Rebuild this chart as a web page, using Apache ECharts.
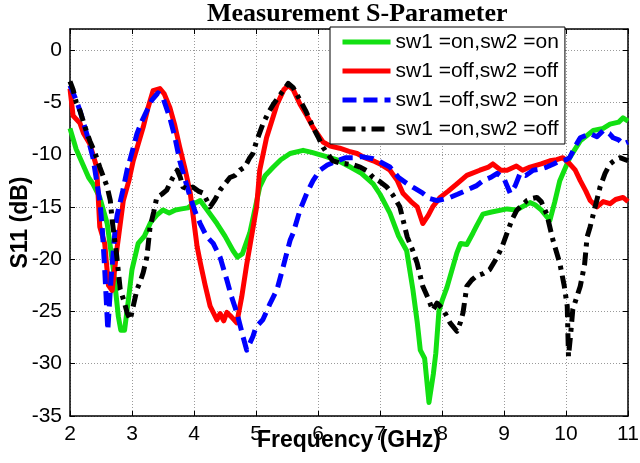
<!DOCTYPE html>
<html>
<head>
<meta charset="utf-8">
<script src="https://cdn.jsdelivr.net/npm/echarts@6/dist/echarts.min.js"></script>
<style>
  html, body { margin: 0; padding: 0; background: #fff; }
  #chart { width: 640px; height: 463px; }
</style>
</head>
<body>
<div id="chart"></div>
<script>
// 测量 S11 曲线 (频率 GHz, dB)
const seriesNames = ['sw1 =on,sw2 =on', 'sw1 =off,sw2 =off', 'sw1 =off,sw2 =on', 'sw1 =on,sw2 =off'];
const xTicks = [2, 3, 4, 5, 6, 7, 8, 9, 10, 11];
const yTicks = [-35, -30, -25, -20, -15, -10, -5, 0];

const onOn = [[2,-7.5],[2.1,-9.5],[2.16,-10.3],[2.3,-12.2],[2.37,-12.8],[2.48,-14.1],[2.6,-16.6],[2.7,-21],[2.78,-25.5],[2.82,-26.8],[2.88,-26.8],[2.95,-23.5],[3.0,-21],[3.1,-18.5],[3.2,-17.8],[3.3,-16.5],[3.4,-15.8],[3.5,-15.3],[3.6,-15.6],[3.7,-15.3],[3.8,-15.2],[3.9,-15.1],[4.0,-14.7],[4.1,-14.4],[4.2,-15.2],[4.37,-16.6],[4.5,-17.8],[4.63,-19.2],[4.7,-19.8],[4.78,-19.5],[4.9,-17.5],[5.06,-13.1],[5.15,-12],[5.28,-11.2],[5.4,-10.5],[5.55,-9.9],[5.76,-9.6],[5.9,-9.8],[6.08,-10.1],[6.3,-10.5],[6.52,-11.2],[6.7,-11.8],[6.89,-12.8],[7.0,-13.8],[7.16,-15.6],[7.3,-17.8],[7.43,-19.2],[7.53,-22.9],[7.6,-26],[7.65,-28.7],[7.72,-29.5],[7.79,-33.7],[7.86,-31],[7.9,-29],[7.95,-25],[8.0,-24],[8.08,-22.7],[8.24,-19.4],[8.3,-18.5],[8.4,-18.6],[8.5,-17.5],[8.56,-16.8],[8.66,-15.7],[8.8,-15.5],[9.05,-15.2],[9.2,-15.3],[9.42,-14.6],[9.5,-14.8],[9.6,-15.3],[9.74,-16.3],[9.82,-14.5],[9.9,-12.5],[10.06,-10.3],[10.23,-8.7],[10.44,-7.7],[10.6,-7.5],[10.71,-7.1],[10.85,-6.9],[10.92,-6.5],[11,-6.8]];

const offOff = [[2,-3.7],[2.05,-6.3],[2.16,-7.0],[2.22,-8.0],[2.32,-9.0],[2.43,-11.2],[2.48,-16.9],[2.56,-18.5],[2.62,-22.5],[2.68,-23],[2.72,-21],[2.76,-18.9],[2.86,-14.4],[2.95,-12.5],[3.02,-10.6],[3.1,-9],[3.18,-7.4],[3.26,-5.5],[3.34,-3.9],[3.45,-3.7],[3.52,-4.2],[3.61,-5.5],[3.69,-7.2],[3.77,-9.3],[3.86,-11.5],[3.94,-13.7],[4.0,-16.5],[4.05,-18.8],[4.1,-20.3],[4.18,-22.5],[4.26,-24.5],[4.37,-25.8],[4.42,-25.2],[4.48,-25.9],[4.53,-25.1],[4.6,-25.5],[4.69,-26.1],[4.77,-23.6],[4.85,-20.5],[4.9,-18.8],[5.01,-15],[5.06,-11.5],[5.17,-8.4],[5.34,-5.2],[5.45,-3.8],[5.52,-3.4],[5.6,-3.8],[5.71,-5.2],[5.82,-6.3],[5.92,-7.4],[6.08,-8.8],[6.2,-9.2],[6.35,-9.4],[6.5,-9.7],[6.63,-9.9],[6.75,-10.3],[6.89,-10.6],[7.0,-10.9],[7.16,-11.5],[7.28,-12.5],[7.37,-13.7],[7.5,-14.5],[7.6,-15],[7.69,-16.6],[7.78,-15.8],[7.85,-15],[7.97,-14.1],[8.1,-13.5],[8.24,-12.8],[8.4,-12],[8.61,-11.5],[8.75,-11.2],[8.82,-10.9],[8.95,-11.5],[9.05,-11.5],[9.2,-11.1],[9.3,-11.5],[9.42,-11.2],[9.6,-10.9],[9.74,-10.6],[9.85,-10.5],[9.95,-10.3],[10.06,-10.9],[10.15,-11.5],[10.23,-12.5],[10.32,-13.5],[10.39,-14.4],[10.5,-15],[10.6,-14.5],[10.71,-14.7],[10.8,-14.3],[10.92,-14.1],[11,-14.5]];

const offOn = [[2,-3.4],[2.1,-4.8],[2.16,-5.8],[2.27,-8.0],[2.37,-10.3],[2.48,-14.4],[2.52,-17],[2.56,-21],[2.61,-26.8],[2.66,-22],[2.73,-17],[2.76,-15.8],[2.85,-13.5],[2.92,-11.5],[3.0,-9.8],[3.08,-8.0],[3.16,-6.8],[3.24,-5.8],[3.32,-4.8],[3.42,-4.1],[3.5,-4.6],[3.61,-6.5],[3.69,-8.3],[3.77,-10.6],[3.86,-12.5],[3.94,-14.1],[4.02,-15.5],[4.1,-16.6],[4.2,-17.8],[4.31,-18.5],[4.42,-19.8],[4.53,-22],[4.6,-23.5],[4.69,-25.1],[4.79,-27.4],[4.85,-28.7],[4.95,-27.4],[5.0,-26.5],[5.11,-25.8],[5.23,-24.2],[5.34,-22.9],[5.44,-20.7],[5.55,-18.2],[5.6,-17.5],[5.71,-15.3],[5.82,-13.7],[5.92,-12.5],[6.03,-11.5],[6.15,-11],[6.31,-10.6],[6.45,-10.3],[6.56,-10.3],[6.7,-10.2],[6.89,-10.4],[7.0,-10.7],[7.16,-11.2],[7.3,-12.2],[7.44,-12.8],[7.55,-13.2],[7.69,-13.7],[7.8,-14.2],[7.92,-14.4],[8.0,-14.3],[8.13,-14.1],[8.25,-13.8],[8.4,-13.4],[8.55,-13],[8.66,-12.5],[8.78,-12.2],[8.89,-11.8],[9.0,-12.3],[9.1,-13.7],[9.18,-13],[9.26,-11.8],[9.35,-12],[9.47,-11.5],[9.58,-11.4],[9.69,-11.2],[9.8,-10.9],[9.9,-10.6],[10.0,-10.5],[10.06,-10.3],[10.15,-9.2],[10.23,-8.4],[10.39,-8.0],[10.5,-8.3],[10.6,-7.7],[10.7,-8.0],[10.76,-8.4],[10.85,-8.6],[10.92,-9.0],[11,-8.8]];

const onOff = [[2,-3.0],[2.05,-3.8],[2.1,-5.0],[2.16,-5.8],[2.25,-7.5],[2.32,-8.7],[2.4,-9.8],[2.48,-11.2],[2.6,-13.1],[2.65,-14.4],[2.68,-16.3],[2.75,-19.5],[2.81,-22.9],[2.87,-24],[2.92,-25.1],[2.97,-25.8],[3.02,-24.5],[3.08,-22.9],[3.13,-22.2],[3.18,-21.3],[3.24,-19.8],[3.29,-17],[3.35,-15.5],[3.4,-14.1],[3.48,-13.8],[3.56,-13.4],[3.65,-12.3],[3.73,-11.5],[3.78,-12.2],[3.82,-13.1],[3.9,-13.3],[3.98,-13.1],[4.07,-13.5],[4.15,-13.7],[4.2,-14.3],[4.26,-15],[4.34,-14.3],[4.42,-13.4],[4.5,-12.8],[4.58,-12.2],[4.66,-12],[4.74,-11.5],[4.82,-11.2],[4.9,-10.3],[4.95,-9.9],[5.01,-8.7],[5.11,-7.1],[5.2,-6.0],[5.28,-5.2],[5.4,-4.2],[5.52,-3.2],[5.6,-3.6],[5.71,-4.8],[5.8,-5.8],[5.92,-7.4],[6.0,-8.3],[6.08,-9.3],[6.16,-10.0],[6.24,-10.6],[6.35,-10.8],[6.47,-10.9],[6.58,-11.0],[6.68,-11.2],[6.8,-11.6],[6.89,-12.2],[7.0,-12.6],[7.11,-13.1],[7.2,-13.8],[7.32,-15],[7.44,-17.9],[7.53,-19.2],[7.6,-20.4],[7.69,-22.6],[7.78,-23.8],[7.85,-24.9],[7.92,-24.2],[8.02,-24.8],[8.13,-26.1],[8.24,-26.9],[8.3,-26],[8.34,-25.1],[8.4,-22.6],[8.48,-22],[8.56,-21.6],[8.66,-21.4],[8.77,-21],[8.89,-19.8],[8.97,-18.8],[9.05,-17.5],[9.13,-16.2],[9.21,-15.3],[9.37,-14.4],[9.45,-14.2],[9.53,-14.1],[9.6,-14.5],[9.69,-15.7],[9.79,-18.2],[9.9,-20.4],[9.97,-22.5],[10.02,-24.5],[10.04,-29.3],[10.07,-27.5],[10.11,-24.8],[10.23,-22.6],[10.3,-20.5],[10.34,-17.9],[10.39,-16.9],[10.47,-15],[10.55,-13.1],[10.63,-11.8],[10.71,-10.9],[10.8,-10.5],[10.87,-10.3],[11,-10.6]];

const colors = ['#12e012', '#ff0000', '#0000ff', '#000000'];
const dashes = ['solid', 'solid', [14, 7], [13, 6, 4, 6]];
const curves = [onOn, offOff, offOn, onOff];

const chart = echarts.init(document.getElementById('chart'));

const tickFont = { fontFamily: 'Liberation Sans, Arial, sans-serif', fontSize: 21, color: '#000' };
const gridLine = { show: true, lineStyle: { color: '#9a9a9a', width: 1, type: [1, 2] } };

let option = {
  animation: false,
  title: {
    text: 'Measurement S-Parameter',
    left: 202,
    top: -4,
    textStyle: { fontFamily: 'Liberation Serif, Times New Roman, serif', fontWeight: 'bold', fontSize: 26, color: '#000' }
  },
  legend: {
    data: seriesNames,
    orient: 'vertical',
    left: 330,
    top: 27,
    padding: [3, 6, 3, 10],
    itemWidth: 48,
    itemHeight: 14,
    itemGap: 5,
    icon: 'inherit',
    itemStyle: { opacity: 0 },
    lineStyle: { width: 5 },
    backgroundColor: '#fff',
    borderColor: '#000',
    borderWidth: 1,
    borderRadius: 0,
    textStyle: { fontFamily: 'Liberation Sans, Arial, sans-serif', fontSize: 21, color: '#000', lineHeight: 24 }
  },
  grid: { left: 70, right: 12, top: 29, bottom: 47, show: false, outerBoundsMode: 'none', containLabel: false },
  xAxis: [
    {
      type: 'value', min: 2, max: 11, interval: 1, position: 'bottom',
      name: 'Frequency (GHz)', nameLocation: 'middle', nameGap: 13, nameMoveOverlap: false,
      nameTextStyle: { fontFamily: 'Liberation Sans, Arial, sans-serif', fontWeight: 'bold', fontSize: 23, color: '#000' },
      axisLine: { show: true, onZero: false, lineStyle: { color: '#000', width: 1.5 } },
      axisTick: { show: true, inside: true, length: 5, lineStyle: { color: '#000' } },
      axisLabel: Object.assign({ margin: 8, formatter: v => xTicks.includes(v) ? String(v) : '' }, tickFont),
      splitLine: gridLine
    },
    {
      type: 'value', min: 2, max: 11, interval: 1, position: 'top',
      axisLine: { show: true, onZero: false, lineStyle: { color: '#000', width: 1.5 } },
      axisTick: { show: true, inside: true, length: 5, lineStyle: { color: '#000' } },
      axisLabel: { show: false },
      splitLine: { show: false }
    }
  ],
  yAxis: [
    {
      type: 'value', min: -35, max: 2, interval: 5, position: 'left',
      name: 'S11 (dB)', nameLocation: 'middle', nameGap: 38, nameMoveOverlap: false,
      nameTextStyle: { fontFamily: 'Liberation Sans, Arial, sans-serif', fontWeight: 'bold', fontSize: 23, color: '#000' },
      axisLine: { show: true, onZero: false, lineStyle: { color: '#000', width: 1.5 } },
      axisTick: { show: true, inside: true, length: 5, lineStyle: { color: '#000' } },
      axisLabel: Object.assign({ margin: 8, showMaxLabel: false, formatter: v => yTicks.includes(v) ? String(v) : '' }, tickFont),
      splitLine: gridLine
    },
    {
      type: 'value', min: -35, max: 2, interval: 5, position: 'right',
      axisLine: { show: true, onZero: false, lineStyle: { color: '#000', width: 1.5 } },
      axisTick: { show: true, inside: true, length: 5, lineStyle: { color: '#000' } },
      axisLabel: { show: false },
      splitLine: { show: false }
    }
  ],
  series: curves.map((d, i) => ({
    name: seriesNames[i],
    type: 'line',
    xAxisIndex: 0,
    yAxisIndex: 0,
    data: d,
    symbol: 'none',
    smooth: false,
    z: 2 + i,
    itemStyle: { color: colors[i] },
    lineStyle: { color: colors[i], width: 5, type: dashes[i], cap: 'butt', join: 'round' }
  }))
};

chart.setOption(option);
</script>
</body>
</html>
